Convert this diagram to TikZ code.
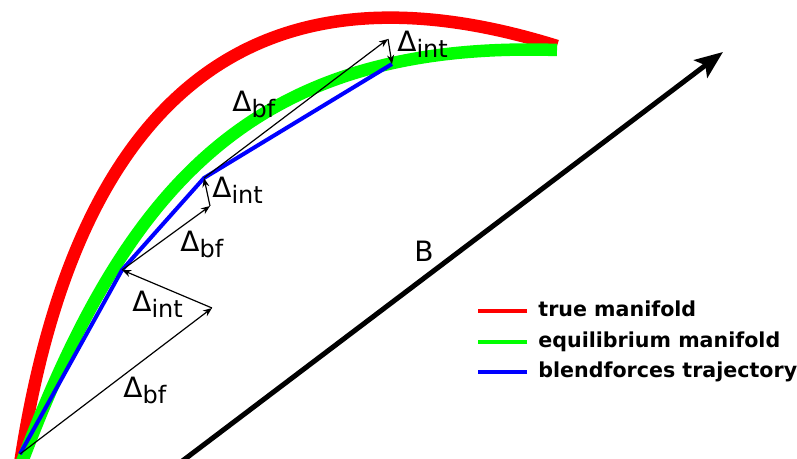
\documentclass[tikz,border=0pt]{standalone}
\usepackage{fontspec}
\setmainfont{DejaVu Sans}
\usetikzlibrary{arrows.meta}
\definecolor{ctrue}{RGB}{255,0,0}
\definecolor{cequi}{RGB}{0,255,0}
\definecolor{cblend}{RGB}{0,0,255}
\newcommand{\dlab}[1]{{\fontsize{14}{16}\selectfont Δ}\raisebox{-3pt}{\fontsize{12}{14}\selectfont #1}}

\begin{document}
\begin{tikzpicture}[x=0.5pt,y=-0.5pt,
   manif/.style={line width=6.25pt},
   dvec/.style={-{Stealth[length=4.5pt,width=3.5pt]},line width=0.6pt},
   lab/.style={anchor=base west,inner sep=0pt},
   key/.style={anchor=west,inner sep=0pt,text height=7.8pt,text depth=2.5pt,
               font=\fontsize{10.3}{12}\selectfont\bfseries},
   keyline/.style={line width=2.2pt}]
  \useasboundingbox (0,0) rectangle (797,459);
  % points of the trajectory
  \coordinate (p0) at (20,454);
  \coordinate (p1) at (122,270);
  \coordinate (p2) at (204,178);
  \coordinate (p3) at (392,64);
  \coordinate (q1) at (212,308);
  \coordinate (q2) at (210,206);
  \coordinate (q3) at (388,39);
  % manifolds
  \draw[ctrue,manif] (20,464) .. controls (75,100) and (250,-50) .. (557,46);
  \draw[cequi,manif] (22,462) .. controls (125,190) and (250,40) .. (557,50);
  \draw[cblend,line width=2pt] (p0) -- (p1) -- (p2) -- (p3);
  % steps
  \draw[dvec] (p0) -- (q1);
  \draw[dvec] (q1) -- (p1);
  \draw[dvec] (p1) -- (q2);
  \draw[dvec] (q2) -- (p2);
  \draw[dvec] (p2) -- (q3);
  \draw[dvec] (q3) -- (p3);
  \node[lab] (bf1)  at (123,397) {\dlab{bf}};
  \node[lab] (int1) at (132,312) {\dlab{int}};
  \node[lab] (bf2)  at (180,252) {\dlab{bf}};
  \node[lab] (int2) at (212,198) {\dlab{int}};
  \node[lab] (bf3)  at (232,112) {\dlab{bf}};
  \node[lab] (int3) at (397,52)  {\dlab{int}};
  % field
  \coordinate (b0) at (181,462);
  \coordinate (b1) at (723,52);
  \draw[line width=2.5pt,-{Stealth[length=14pt,width=11pt,inset=3pt]}] (b0) -- (b1);
  \node[lab] (bl) at (414,262) {\fontsize{14}{16}\selectfont B};
  % legend
  \node[key] (k1) at (538,311) {true manifold};
  \node[key] (k2) at (538,342) {equilibrium manifold};
  \node[key] (k3) at (538,372) {blendforces trajectory};
  \draw[ctrue,keyline]  ([xshift=-5.5pt]k1.west) -- ++(-49,0);
  \draw[cequi,keyline]  ([xshift=-5.5pt]k2.west) -- ++(-49,0);
  \draw[cblend,keyline] ([xshift=-5.5pt]k3.west) -- ++(-49,0);
\end{tikzpicture}
\end{document}
